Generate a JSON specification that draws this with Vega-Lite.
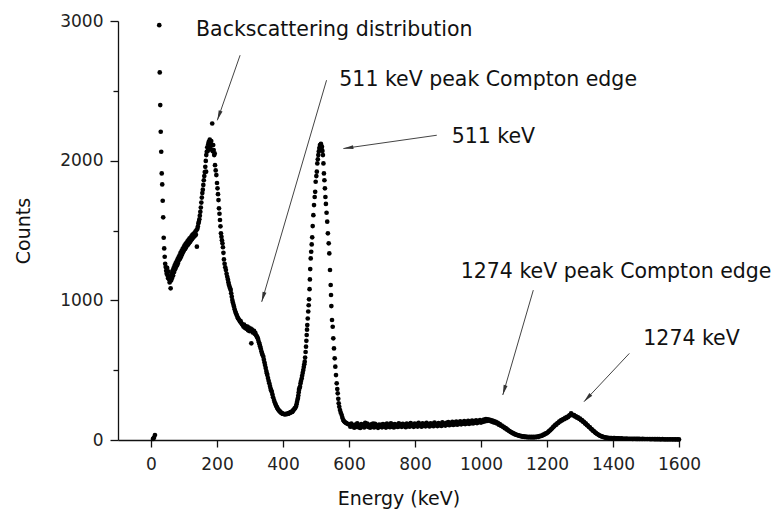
{
  "$schema": "https://vega.github.io/schema/vega-lite/v6.json",
  "width": 561,
  "height": 419,
  "autosize": {"type": "none"},
  "padding": {"left": 118, "top": 21, "right": 101, "bottom": 73},
  "background": "white",
  "config": {
    "view": {"stroke": null},
    "font": "DejaVu Sans",
    "axis": {
      "grid": false,
      "labelFont": "DejaVu Sans",
      "labelFontSize": 17,
      "labelColor": "#222",
      "titleFont": "DejaVu Sans",
      "titleFontSize": 19,
      "titleFontWeight": "normal",
      "titleColor": "#111",
      "domainColor": "#111",
      "domainWidth": 1.3,
      "tickColor": "#111",
      "tickWidth": 1.3
    }
  },
  "datasets": {
    "spectrum": [
      {"e":6,"c":8},{"e":9,"c":17},{"e":12,"c":35},
      {"e":25,"c":2970},{"e":26.5,"c":2632},{"e":28,"c":2398},{"e":29.5,"c":2207},{"e":31,"c":2064},{"e":32.5,"c":1909},{"e":34,"c":1830},{"e":35.5,"c":1713},{"e":37,"c":1594},{"e":38.5,"c":1448},{"e":40,"c":1372},{"e":41.5,"c":1312},{"e":43,"c":1262},{"e":44.5,"c":1238},{"e":46,"c":1212},{"e":47.5,"c":1190},{"e":49,"c":1232},{"e":50.5,"c":1176},{"e":52,"c":1158},{"e":53.5,"c":1205},{"e":55,"c":1150},{"e":56.5,"c":1128},{"e":58,"c":1172},{"e":59.5,"c":1086},{"e":61,"c":1142},
      {"e":62.5,"c":1188},{"e":64,"c":1160},{"e":65.5,"c":1212},{"e":67,"c":1178},{"e":68.5,"c":1230},{"e":70,"c":1202},{"e":71.5,"c":1248},{"e":73,"c":1222},{"e":74.5,"c":1264},{"e":76,"c":1238},{"e":77.5,"c":1278},{"e":79,"c":1252},{"e":80.5,"c":1294},{"e":82,"c":1268},{"e":83.5,"c":1308},{"e":85,"c":1288},{"e":86.5,"c":1322},{"e":88,"c":1298},{"e":89.5,"c":1340},{"e":91,"c":1312},{"e":92.5,"c":1352},{"e":94,"c":1328},{"e":95.5,"c":1366},{"e":97,"c":1344},{"e":98.5,"c":1378},{"e":100,"c":1358},
      {"e":101.5,"c":1392},{"e":103,"c":1368},{"e":104.5,"c":1402},{"e":106,"c":1378},{"e":107.5,"c":1412},{"e":109,"c":1392},{"e":110.5,"c":1422},{"e":112,"c":1398},{"e":113.5,"c":1432},{"e":115,"c":1408},{"e":116.5,"c":1442},{"e":118,"c":1418},{"e":119.5,"c":1448},{"e":121,"c":1428},{"e":122.5,"c":1458},{"e":124,"c":1438},{"e":125.5,"c":1468},{"e":127,"c":1448},{"e":128.5,"c":1474},{"e":130,"c":1456},{"e":131.5,"c":1482},{"e":133,"c":1462},{"e":134.5,"c":1492},{"e":136,"c":1470},{"e":137.5,"c":1502},{"e":139,"c":1384},{"e":140.5,"c":1512},
      {"e":142,"c":1528},{"e":143.5,"c":1550},{"e":145,"c":1562},{"e":146.5,"c":1580},{"e":148,"c":1606},{"e":149.5,"c":1634},{"e":151,"c":1664},{"e":152.5,"c":1700},{"e":154,"c":1736},{"e":155.5,"c":1768},{"e":157,"c":1792},{"e":158.5,"c":1826},{"e":160,"c":1860},{"e":161.5,"c":1890},{"e":163,"c":1918},{"e":164.5,"c":1956},{"e":166,"c":1998},{"e":167,"c":1921},{"e":167.5,"c":2040},{"e":169,"c":2064},{"e":170.5,"c":2096},{"e":172,"c":2070},{"e":173.5,"c":2118},{"e":175,"c":2134},{"e":176.5,"c":2104},{"e":178,"c":2150},{"e":179.5,"c":2126},{"e":181,"c":2082},{"e":182.5,"c":2140},{"e":184,"c":2110},{"e":185.5,"c":2266},{"e":187,"c":2068},{"e":188.5,"c":2112},{"e":190,"c":2076},{"e":191.5,"c":2040},{"e":193,"c":2052},
      {"e":194,"c":1968},{"e":196,"c":1930},{"e":198,"c":1897},{"e":200,"c":1840},{"e":201.5,"c":1802},{"e":203,"c":1760},{"e":204.5,"c":1718},{"e":206,"c":1659},{"e":207.5,"c":1620},{"e":209,"c":1575},{"e":210.5,"c":1530},{"e":212,"c":1480},{"e":213.5,"c":1455},{"e":215,"c":1430},{"e":216.5,"c":1408},{"e":218,"c":1380},{"e":219.5,"c":1340},{"e":221,"c":1293},{"e":223,"c":1262},{"e":225,"c":1236},{"e":227,"c":1217},{"e":229,"c":1190},{"e":231,"c":1168},{"e":233,"c":1150},{"e":234.5,"c":1130},{"e":236,"c":1112},{"e":238,"c":1098},{"e":240,"c":1084},{"e":241.5,"c":1074},{"e":243,"c":1050},{"e":244.8,"c":1026},{"e":246.4,"c":1002},{"e":248,"c":985},{"e":250,"c":968},{"e":251.5,"c":954},{"e":253.5,"c":936},{"e":255.5,"c":920},{"e":257.5,"c":906},{"e":259.7,"c":895},{"e":261.5,"c":884},{"e":263.5,"c":872},{"e":265.5,"c":866},{"e":267.6,"c":859},{"e":269.5,"c":848},{"e":271.5,"c":852},{"e":273.5,"c":838},{"e":275.5,"c":830},{"e":277.9,"c":823},
      {"e":280,"c":812},{"e":282,"c":826},{"e":284,"c":804},{"e":286,"c":815},{"e":288,"c":798},{"e":290,"c":800},{"e":292,"c":812},{"e":294,"c":786},{"e":296,"c":805},{"e":298,"c":780},{"e":300,"c":787},{"e":302,"c":798},{"e":304,"c":692},{"e":306,"c":790},{"e":308,"c":770},{"e":310,"c":775},{"e":312,"c":782},{"e":314,"c":760},{"e":316,"c":768},{"e":318,"c":752},{"e":320,"c":745},{"e":322,"c":736},{"e":323.5,"c":728},{"e":325,"c":716},{"e":327,"c":700},{"e":329,"c":686},{"e":330.5,"c":672},{"e":332.4,"c":656},{"e":334.5,"c":636},{"e":336.5,"c":620},{"e":338.5,"c":606},{"e":340.3,"c":596},{"e":342,"c":575},{"e":344,"c":555},{"e":345.5,"c":537},{"e":347.5,"c":516},{"e":349.5,"c":494},{"e":351,"c":478},{"e":352.4,"c":465},{"e":354.5,"c":444},{"e":356.5,"c":424},{"e":358.5,"c":406},{"e":360.5,"c":386},{"e":362.5,"c":368},{"e":364,"c":356},{"e":365.8,"c":346},{"e":368,"c":326},{"e":370,"c":306},{"e":372.7,"c":286},{"e":375,"c":270},{"e":377.5,"c":256},{"e":379,"c":246},
      {"e":381,"c":238},{"e":383,"c":228},{"e":385,"c":220},{"e":387,"c":213},{"e":389,"c":208},{"e":391,"c":203},{"e":393,"c":198},{"e":395,"c":194},{"e":397,"c":191},{"e":399,"c":188},{"e":401,"c":187},{"e":403,"c":186},{"e":405,"c":184},{"e":407,"c":186},{"e":409,"c":185},{"e":411,"c":187},{"e":413,"c":186},{"e":415,"c":189},{"e":416.5,"c":188},{"e":418,"c":192},{"e":420,"c":194},{"e":422,"c":196},{"e":424,"c":199},{"e":426,"c":202},{"e":428,"c":201},{"e":429.4,"c":208},{"e":431,"c":212},{"e":433,"c":218},{"e":435,"c":224},{"e":437,"c":230},{"e":439.4,"c":240},{"e":441,"c":256},{"e":442.5,"c":272},{"e":444,"c":288},{"e":445.3,"c":300},{"e":446.4,"c":318},{"e":447.5,"c":340},{"e":448.5,"c":358},{"e":449.5,"c":370},{"e":451.5,"c":382},{"e":453,"c":405},{"e":454.5,"c":422},{"e":456.7,"c":441},{"e":458,"c":460},{"e":459.7,"c":480},{"e":461.5,"c":501},{"e":463,"c":522},{"e":464.5,"c":542},{"e":465.8,"c":561},{"e":467,"c":590},{"e":468.5,"c":630},{"e":469.7,"c":668},{"e":470.8,"c":710},{"e":471.8,"c":752},{"e":472.8,"c":790},{"e":473.6,"c":823},{"e":475,"c":870},{"e":476.5,"c":920},{"e":477.8,"c":965},{"e":479,"c":1007},
      {"e":480.5,"c":1080},{"e":481.5,"c":1150},{"e":482.5,"c":1224},{"e":484,"c":1300},{"e":485.5,"c":1348},{"e":487,"c":1400},{"e":488.5,"c":1451},{"e":490,"c":1532},{"e":492,"c":1610},{"e":494,"c":1682},{"e":496,"c":1740},{"e":497.5,"c":1777},{"e":499,"c":1849},{"e":501,"c":1890},{"e":502.5,"c":1921},{"e":504,"c":1980},{"e":505.5,"c":2010},{"e":507,"c":2040},{"e":508.5,"c":2066},{"e":510,"c":2090},{"e":512,"c":2112},{"e":513.5,"c":2096},{"e":515,"c":2120},{"e":516.5,"c":2084},{"e":518,"c":2100},{"e":519.5,"c":2070},{"e":521,"c":2040},{"e":522.5,"c":1980},{"e":524,"c":1909},{"e":525.5,"c":1860},{"e":527,"c":1802},{"e":528.5,"c":1740},{"e":530,"c":1690},{"e":532,"c":1627},{"e":534,"c":1563},{"e":536,"c":1480},{"e":538.5,"c":1408},{"e":540.3,"c":1336},{"e":542.4,"c":1217},{"e":544.5,"c":1110},{"e":545.5,"c":1038},{"e":546.5,"c":959},{"e":548.5,"c":859},{"e":550.6,"c":811},{"e":552.4,"c":728},{"e":554.5,"c":656},{"e":556.7,"c":585},{"e":558.5,"c":525},{"e":560.6,"c":465},{"e":562.7,"c":406},{"e":564.5,"c":365},{"e":565.8,"c":334},{"e":567.5,"c":295},{"e":568.8,"c":263},{"e":570.5,"c":238},{"e":572.7,"c":215},{"e":575,"c":196},{"e":577.9,"c":179},{"e":580,"c":160},{"e":582.7,"c":143},{"e":585,"c":134},{"e":588,"c":127},{"e":591,"c":122},{"e":594,"c":118},{"e":597,"c":114},
      {"e":601,"c":112},{"e":604,"c":95},{"e":607,"c":118},{"e":610,"c":97},{"e":613,"c":105},{"e":616,"c":88},{"e":619,"c":110},{"e":622,"c":94},{"e":625,"c":120},{"e":628,"c":92},{"e":631,"c":104},{"e":634,"c":86},{"e":637,"c":113},{"e":640,"c":99},{"e":643,"c":108},{"e":646,"c":90},{"e":649,"c":122},{"e":652,"c":101},{"e":655,"c":117},{"e":658,"c":93},{"e":661,"c":106},{"e":664,"c":88},{"e":667,"c":112},{"e":670,"c":96},{"e":673,"c":118},{"e":676,"c":90},{"e":679,"c":115},{"e":682,"c":98},{"e":685,"c":104},{"e":688,"c":87},{"e":691,"c":111},{"e":694,"c":95},{"e":697,"c":109},{"e":700,"c":91},
      {"e":703,"c":114},{"e":706,"c":97},{"e":709,"c":108},{"e":712,"c":89},{"e":715,"c":117},{"e":718,"c":100},{"e":721,"c":106},{"e":724,"c":92},{"e":727,"c":119},{"e":730,"c":96},{"e":733,"c":110},{"e":736,"c":90},{"e":739,"c":113},{"e":742,"c":98},{"e":745,"c":107},{"e":748,"c":93},{"e":751,"c":120},{"e":754,"c":99},{"e":757,"c":111},{"e":760,"c":94},{"e":763,"c":116},{"e":766,"c":101},{"e":769,"c":108},{"e":772,"c":92},{"e":775,"c":118},{"e":778,"c":100},{"e":781,"c":112},{"e":784,"c":95},{"e":787,"c":121},{"e":790,"c":103},{"e":793,"c":109},{"e":796,"c":94},{"e":799,"c":117},{"e":802,"c":101},
      {"e":805,"c":113},{"e":808,"c":96},{"e":811,"c":122},{"e":814,"c":104},{"e":817,"c":110},{"e":820,"c":95},{"e":823,"c":119},{"e":826,"c":102},{"e":829,"c":114},{"e":832,"c":98},{"e":835,"c":123},{"e":838,"c":105},{"e":841,"c":112},{"e":844,"c":97},{"e":847,"c":120},{"e":850,"c":104},{"e":853,"c":115},{"e":856,"c":99},{"e":859,"c":124},{"e":862,"c":106},{"e":865,"c":113},{"e":868,"c":100},{"e":871,"c":121},{"e":874,"c":107},{"e":877,"c":116},{"e":880,"c":101},{"e":883,"c":126},{"e":886,"c":108},{"e":889,"c":118},{"e":892,"c":103},{"e":895,"c":122},{"e":898,"c":110},{"e":901,"c":128},{"e":904,"c":106},
      {"e":907,"c":119},{"e":910,"c":112},{"e":913,"c":130},{"e":916,"c":108},{"e":919,"c":124},{"e":922,"c":113},{"e":925,"c":132},{"e":928,"c":110},{"e":931,"c":122},{"e":934,"c":115},{"e":937,"c":134},{"e":940,"c":112},{"e":943,"c":126},{"e":946,"c":117},{"e":949,"c":135},{"e":952,"c":114},{"e":955,"c":128},{"e":958,"c":119},{"e":961,"c":137},{"e":964,"c":116},{"e":967,"c":130},{"e":970,"c":121},{"e":973,"c":139},{"e":976,"c":118},{"e":979,"c":132},{"e":982,"c":124},{"e":985,"c":141},{"e":988,"c":121},{"e":991,"c":135},{"e":994,"c":127},{"e":997,"c":143},{"e":1000,"c":125},
      {"e":1003,"c":138},{"e":1006,"c":130},{"e":1009,"c":146},{"e":1012,"c":134},{"e":1015,"c":150},{"e":1018,"c":136},{"e":1021,"c":148},{"e":1024,"c":138},{"e":1027,"c":144},{"e":1030,"c":134},{"e":1033,"c":140},{"e":1036,"c":128},{"e":1039,"c":136},
      {"e":1042,"c":124},{"e":1045,"c":130},{"e":1048,"c":118},{"e":1051,"c":122},{"e":1054,"c":110},{"e":1057,"c":114},{"e":1060,"c":102},{"e":1063,"c":104},{"e":1066,"c":94},{"e":1069,"c":94},{"e":1072,"c":84},{"e":1075,"c":85},{"e":1078,"c":76},{"e":1081,"c":74},{"e":1084,"c":66},{"e":1087,"c":64},{"e":1090,"c":57},{"e":1093,"c":55},{"e":1096,"c":49},{"e":1099,"c":47},{"e":1102,"c":42},{"e":1105,"c":40},{"e":1108,"c":36},{"e":1111,"c":36},{"e":1114,"c":31},{"e":1117,"c":32},{"e":1120,"c":27},{"e":1123,"c":28},{"e":1126,"c":24},{"e":1129,"c":26},{"e":1132,"c":22},{"e":1135,"c":24},{"e":1138,"c":20},{"e":1141,"c":23},{"e":1144,"c":19},{"e":1147,"c":22},{"e":1150,"c":19},{"e":1153,"c":22},{"e":1156,"c":18},{"e":1159,"c":22},{"e":1162,"c":19},{"e":1165,"c":23},{"e":1168,"c":21},{"e":1171,"c":25},{"e":1174,"c":23},{"e":1177,"c":28},{"e":1180,"c":27},{"e":1183,"c":32},{"e":1186,"c":32},{"e":1189,"c":38},{"e":1192,"c":39},{"e":1195,"c":45},{"e":1198,"c":47},
      {"e":1201,"c":52},{"e":1204,"c":58},{"e":1207,"c":66},{"e":1210,"c":70},{"e":1213,"c":78},{"e":1216,"c":84},{"e":1219,"c":94},{"e":1222,"c":98},{"e":1225,"c":108},{"e":1228,"c":110},{"e":1231,"c":120},{"e":1234,"c":122},{"e":1237,"c":132},{"e":1240,"c":133},{"e":1243,"c":142},{"e":1246,"c":141},{"e":1249,"c":150},{"e":1252,"c":149},{"e":1255,"c":158},{"e":1258,"c":156},{"e":1261,"c":165},{"e":1264,"c":164},{"e":1267,"c":174},{"e":1270,"c":178},{"e":1273,"c":190},{"e":1276,"c":182},{"e":1279,"c":176},{"e":1282,"c":178},{"e":1285,"c":168},{"e":1288,"c":170},{"e":1291,"c":160},{"e":1294,"c":162},{"e":1297,"c":152},{"e":1300,"c":153},{"e":1303,"c":142},{"e":1306,"c":142},{"e":1309,"c":131},{"e":1312,"c":130},{"e":1315,"c":119},{"e":1318,"c":117},{"e":1321,"c":106},{"e":1324,"c":103},{"e":1327,"c":93},{"e":1330,"c":90},{"e":1333,"c":80},{"e":1336,"c":76},{"e":1339,"c":67},{"e":1342,"c":63},{"e":1345,"c":55},{"e":1348,"c":51},{"e":1351,"c":44},{"e":1354,"c":41},{"e":1357,"c":35},{"e":1360,"c":32},{"e":1363,"c":28},{"e":1366,"c":26},{"e":1369,"c":23},{"e":1372,"c":21},{"e":1375,"c":19},{"e":1378,"c":17},{"e":1381,"c":16},{"e":1384,"c":15},{"e":1387,"c":14},{"e":1390,"c":14},{"e":1393,"c":13},{"e":1396,"c":13},{"e":1399,"c":12},{"e":1402,"c":13},
      {"e":1405,"c":13},{"e":1408,"c":12},{"e":1411,"c":12},{"e":1414,"c":11},{"e":1417,"c":11},{"e":1420,"c":10},{"e":1425,"c":11},{"e":1430,"c":10},{"e":1435,"c":9},{"e":1440,"c":10},{"e":1445,"c":9},{"e":1450,"c":9},{"e":1455,"c":9},{"e":1460,"c":8},{"e":1465,"c":9},{"e":1470,"c":8},{"e":1475,"c":8},{"e":1480,"c":8},{"e":1485,"c":7},{"e":1490,"c":8},{"e":1495,"c":7},{"e":1500,"c":7},{"e":1505,"c":7},{"e":1510,"c":7},{"e":1515,"c":6},{"e":1520,"c":7},{"e":1525,"c":6},{"e":1530,"c":6},{"e":1535,"c":6},{"e":1540,"c":6},{"e":1545,"c":5},{"e":1550,"c":6},{"e":1555,"c":5},{"e":1560,"c":5},{"e":1565,"c":5},{"e":1570,"c":5},{"e":1575,"c":5},{"e":1580,"c":5},{"e":1585,"c":4},{"e":1590,"c":5},{"e":1595,"c":4},{"e":1600,"c":4}
    ],
    "arrows": [
      {"e":270,"c":2755,"e2":201,"c2":2289},
      {"e":532,"c":2576,"e2":335.5,"c2":989},
      {"e":866,"c":2182,"e2":583,"c2":2087},
      {"e":1158.5,"c":1073,"e2":1066,"c2":322},
      {"e":1449.5,"c":620,"e2":1312,"c2":274}
    ],
    "notes": [
      {"label":"Backscattering distribution","e":136.4,"c":2890},
      {"label":"511 keV peak Compton edge","e":570.6,"c":2533},
      {"label":"511 keV","e":911,"c":2127},
      {"label":"1274 keV peak Compton edge","e":938.5,"c":1161},
      {"label":"1274 keV","e":1491.8,"c":680}
    ]
  },
  "layer": [
    {
      "data": {"name": "spectrum"},
      "mark": {"type": "point", "filled": true, "shape": "circle", "size": 22, "color": "#000", "opacity": 1},
      "encoding": {
        "x": {
          "field": "e", "type": "quantitative", "title": "Energy (keV)",
          "scale": {"domain": [-100, 1600], "nice": false, "zero": false},
          "axis": {
            "values": [0,100,200,300,400,500,600,700,800,900,1000,1100,1200,1300,1400,1500,1600],
            "format": "d",
            "labelExpr": "datum.value % 200 === 0 ? datum.label : ''",
            "tickSize": {"condition": {"test": "datum.value % 200 === 0", "value": 7}, "value": 4},
            "labelPadding": 9,
            "labelFlush": false,
            "labelOverlap": false,
            "titlePadding": 17
          }
        },
        "y": {
          "field": "c", "type": "quantitative", "title": "Counts",
          "scale": {"domain": [0, 3000], "nice": false, "zero": false},
          "axis": {
            "values": [0,500,1000,1500,2000,2500,3000],
            "format": "d",
            "labelExpr": "datum.value % 1000 === 0 ? datum.label : ''",
            "tickSize": {"condition": {"test": "datum.value % 1000 === 0", "value": 8}, "value": 5},
            "labelPadding": 7,
            "labelFlush": false,
            "labelOverlap": false,
            "titlePadding": 26
          }
        }
      }
    },
    {
      "data": {"name": "arrows"},
      "mark": {"type": "rule", "color": "#444", "strokeWidth": 1},
      "encoding": {
        "x": {"field": "e", "type": "quantitative", "title": "Energy (keV)"},
        "y": {"field": "c", "type": "quantitative", "title": "Counts"},
        "x2": {"field": "e2"},
        "y2": {"field": "c2"}
      }
    },
    {
      "data": {"name": "arrows"},
      "mark": {"type": "point", "filled": true, "shape": "M0,0L0.4,2L-0.4,2Z", "size": 100, "color": "#333", "opacity": 1},
      "encoding": {
        "x": {"field": "e2", "type": "quantitative", "title": "Energy (keV)"},
        "y": {"field": "c2", "type": "quantitative", "title": "Counts"},
        "angle": {"value": {"expr": "atan2(scale('x', datum.e2) - scale('x', datum.e), scale('y', datum.c) - scale('y', datum.c2)) * 180 / PI"}}
      }
    },
    {
      "data": {"name": "notes"},
      "mark": {"type": "text", "align": "left", "baseline": "alphabetic", "font": "DejaVu Sans", "fontSize": 20.5, "color": "#111"},
      "encoding": {
        "x": {"field": "e", "type": "quantitative", "title": "Energy (keV)"},
        "y": {"field": "c", "type": "quantitative", "title": "Counts"},
        "text": {"field": "label"}
      }
    }
  ]
}
